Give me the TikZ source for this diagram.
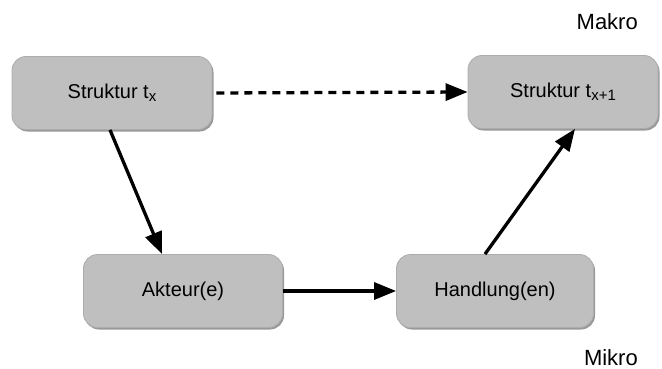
\documentclass[tikz,border=0pt]{standalone}
\usepackage{fontspec}
\setmainfont{Liberation Sans}
\usetikzlibrary{arrows.meta,shadows}
\newcommand{\lowidx}[1]{\raisebox{-2.5pt}{\fontsize{15}{18}\selectfont #1}}
\begin{document}
\begin{tikzpicture}[x=1pt,y=-1pt,
  box/.style={rectangle, rounded corners=14pt, fill=gray!50, draw=gray!65, line width=0.8pt,
    minimum height=73pt, inner sep=0pt, font=\fontsize{20}{24}\selectfont,
    drop shadow={shadow xshift=1.5pt, shadow yshift=-2pt, fill=gray!80, opacity=1}},
  conn/.style={line width=3.3pt, -{Triangle[length=22pt,width=17pt]}},
  level/.style={font=\fontsize{22}{26}\selectfont, anchor=east, inner sep=0pt}]
\useasboundingbox (0,0) rectangle (662,369);
\node[box, minimum width=200pt] (s1) at (112,93) {Struktur t\lowidx{x}};
\node[box, minimum width=190pt] (s2) at (563,92) {Struktur t\lowidx{x+1}};
\node[box, minimum width=199pt] (a) at (183,291) {Akteur(e)};
\node[box, minimum width=197pt] (h) at (495,291) {Handlung(en)};
\node[level] (makro) at (638,22) {Makro};
\node[level] (mikro) at (638,358) {Mikro};
\draw[conn, dashed, dash pattern=on 8pt off 6pt, shorten <=4pt] (s1.east) -- (s2.west);
\draw[conn] ([xshift=-2pt]s1.south) -- ([xshift=-21pt]a.north);
\draw[conn] (a.east) -- (h.west);
\draw[conn] ([xshift=-10pt]h.north) -- ([xshift=12pt]s2.south);
\end{tikzpicture}
\end{document}
